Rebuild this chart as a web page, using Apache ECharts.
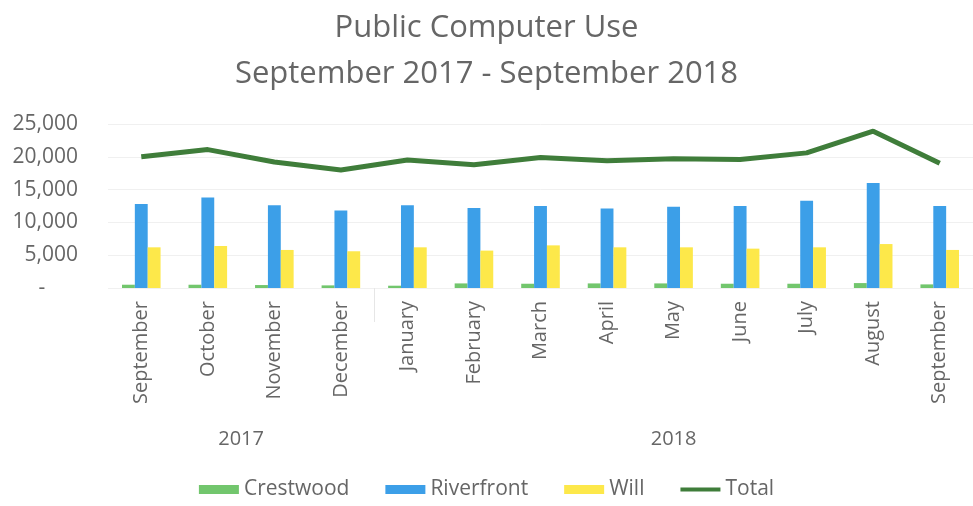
<!DOCTYPE html>
<html>
<head>
<meta charset="utf-8">
<script src="https://cdn.jsdelivr.net/npm/echarts@6/dist/echarts.min.js"></script>
<style>
  html, body { margin: 0; padding: 0; background: #ffffff; }
  #chart { width: 973px; height: 506px; }
</style>
</head>
<body>
<div id="chart"></div>
<script>
// Monthly public computer sessions by branch, Sep 2017 – Sep 2018
const months = ['September', 'October', 'November', 'December', 'January', 'February',
  'March', 'April', 'May', 'June', 'July', 'August', 'September'];
const crestwood = [500, 500, 450, 400, 350, 700, 650, 700, 700, 650, 650, 750, 550];
const riverfront = [12800, 13800, 12600, 11800, 12600, 12200, 12500, 12100, 12400, 12500, 13300, 16000, 12500];
const will = [6200, 6400, 5800, 5600, 6200, 5700, 6500, 6200, 6200, 6000, 6200, 6700, 5800];
const total = [20000, 21100, 19200, 18000, 19500, 18800, 19900, 19400, 19700, 19600, 20600, 23900, 19000];
const yearLabels = ['2017', '2018'];
const yearCenters = [1.5, 8];   // middle of each year's months on the category scale
const yearBreaks = [3.5];       // boundary between December and January
const yTicks = [0, 5000, 10000, 15000, 20000, 25000];

const textColor = '#666666';
const fontFamily = 'Open Sans';

const chart = echarts.init(document.getElementById('chart'), null, { renderer: 'canvas' });

chart.setOption({
  animation: false,
  backgroundColor: '#ffffff',
  textStyle: { fontFamily: fontFamily, color: textColor },
  title: {
    text: 'Public Computer Use\nSeptember 2017 - September 2018',
    left: 'center',
    top: 0,
    textStyle: { fontFamily: fontFamily, fontSize: 31, fontWeight: 'normal', color: textColor, lineHeight: 46 }
  },
  legend: {
    bottom: 1,
    left: 'center',
    itemWidth: 40,
    itemHeight: 9,
    itemGap: 36,
    textStyle: { fontFamily: fontFamily, fontSize: 21, color: textColor, padding: [0, 0, 0, 0] },
    data: [
      { name: 'Crestwood', icon: 'rect' },
      { name: 'Riverfront', icon: 'rect' },
      { name: 'Will', icon: 'rect' },
      // a plain stroke for the line series (invisible moveTo points pad the box)
      { name: 'Total', icon: 'path://M0,0 M40,9 M0,2.5 L40,2.5 L40,6.5 L0,6.5 Z' }
    ]
  },
  grid: { left: 108, right: -16, top: 124, bottom: 218 },
  xAxis: [
    {
      type: 'category',
      data: months,
      axisLine: { show: false },
      axisTick: { show: false },
      axisLabel: {
        rotate: 90,
        margin: 13,
        fontFamily: fontFamily,
        fontSize: 20,
        color: textColor
      }
    },
    {
      type: 'value',
      min: -0.5,
      max: 12.5,
      position: 'bottom',
      axisLine: { show: false },
      splitLine: { show: false },
      axisTick: {
        show: true,
        customValues: yearBreaks,
        length: 34,
        lineStyle: { color: '#e6e6e6', width: 1 }
      },
      axisLabel: {
        customValues: yearCenters,
        margin: 141,
        fontFamily: fontFamily,
        fontSize: 20,
        color: textColor,
        formatter: function (v) {
          return yearLabels[yearCenters.indexOf(v)];
        }
      }
    }
  ],
  yAxis: {
    type: 'value',
    min: 0,
    max: 25000,
    interval: 5000,
    axisLine: { show: false },
    axisTick: { show: false },
    splitLine: { lineStyle: { color: '#f0f0f0', width: 1 } },
    axisLabel: {
      margin: 30,
      fontFamily: fontFamily,
      fontSize: 21,
      color: textColor,
      customValues: yTicks,
      formatter: function (v) {
        return v === 0 ? '-      ' : v.toLocaleString('en-US');
      }
    }
  },
  series: [
    {
      name: 'Crestwood',
      type: 'bar',
      data: crestwood,
      barGap: '0%',
      barCategoryGap: '42%',
      itemStyle: { color: '#72c66d' }
    },
    {
      name: 'Riverfront',
      type: 'bar',
      data: riverfront,
      barGap: '0%',
      barCategoryGap: '42%',
      itemStyle: { color: '#3c9fe8' }
    },
    {
      name: 'Will',
      type: 'bar',
      data: will,
      barGap: '0%',
      barCategoryGap: '42%',
      itemStyle: { color: '#fde84a' }
    },
    {
      name: 'Total',
      type: 'line',
      data: total,
      symbol: 'none',
      itemStyle: { color: '#3f7d3a' },
      lineStyle: { color: '#3f7d3a', width: 5 }
    }
  ]
});
</script>
</body>
</html>
